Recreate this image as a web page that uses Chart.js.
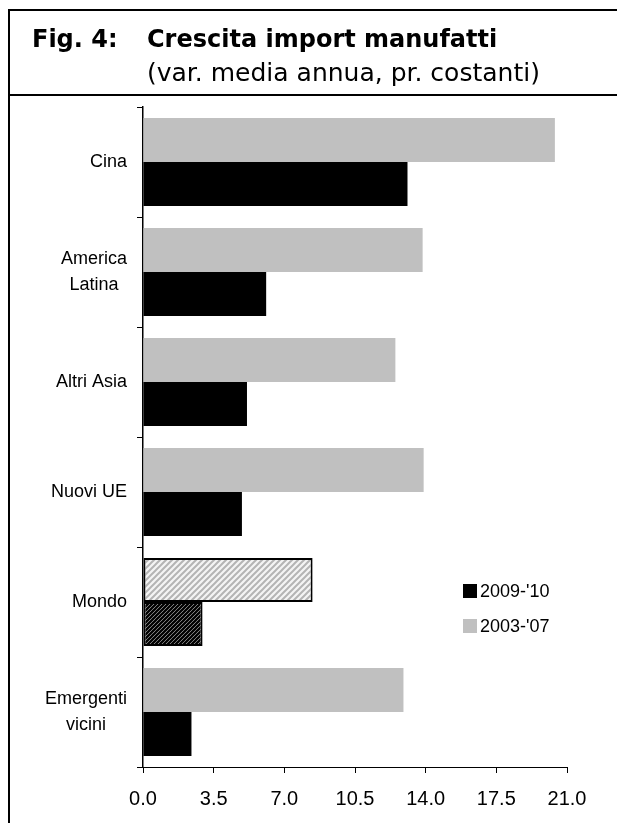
<!DOCTYPE html>
<html lang="it">
<head>
<meta charset="utf-8">
<title>Crescita import manufatti</title>
<script src="https://cdn.jsdelivr.net/npm/chart.js@4.4.1/dist/chart.umd.min.js"></script>
<style>
  html, body { margin: 0; padding: 0; background: #fff; overflow: hidden; }
  #page { position: relative; width: 617px; height: 823px; overflow: hidden; }
  #chartBox { position: absolute; left: 0; top: 0; width: 617px; height: 823px; }
  #frame {
    position: absolute; left: 8px; top: 9px; width: 700px; height: 900px;
    border-left: 2px solid #000; border-top: 2px solid #000;
  }
  #head {
    position: absolute; left: 8px; top: 9px; width: 700px; height: 85px;
    border-bottom: 2px solid #000;
    font-family: "DejaVu Sans", Verdana, sans-serif; color: #000; line-height: 1;
  }
  #head span { position: absolute; white-space: nowrap; }
  .fig { left: 24px; top: 18px; font-size: 24px; font-weight: bold; }
  .title { left: 139px; top: 18px; font-size: 24px; font-weight: bold; }
  .sub { left: 139px; top: 51px; font-size: 25px; }
</style>
</head>
<body>
<div id="page">
  <div id="chartBox"><canvas id="imports" width="617" height="823"></canvas></div>
  <div id="frame"></div>
  <div id="head">
    <span class="fig">Fig. 4:</span>
    <span class="title">Crescita import manufatti</span>
    <span class="sub">(var. media annua, pr. costanti)</span>
  </div>
</div>
<script>
const categories = [['Cina'], ['America', 'Latina'], ['Altri Asia'], ['Nuovi UE'], ['Mondo'], ['Emergenti', 'vicini']];
const seriesNames = ["2003-'07", "2009-'10"];
const growth0307 = [20.4, 13.85, 12.5, 13.9, 8.4, 12.9];
const growth0910 = [13.1, 6.1, 5.15, 4.9, 2.95, 2.4];
const xTicks = [0, 3.5, 7, 10.5, 14, 17.5, 21];
const worldIndex = 4;

const LABEL_FONT = '"Liberation Sans", Arial, sans-serif';
const GRAY = '#c0c0c0';
const BLACK = '#000000';

// diagonal "/" hatch used for the world totals
function hatch(bg, fg, size, width) {
  const c = document.createElement('canvas');
  c.width = c.height = size;
  const g = c.getContext('2d');
  g.fillStyle = bg;
  g.fillRect(0, 0, size, size);
  g.strokeStyle = fg;
  g.lineWidth = width;
  g.beginPath();
  g.moveTo(-size, size); g.lineTo(size, -size);
  g.moveTo(0, size); g.lineTo(size, 0);
  g.moveTo(0, size * 2); g.lineTo(size * 2, 0);
  g.stroke();
  return g.createPattern(c, 'repeat');
}

const ctx = document.getElementById('imports').getContext('2d');
const grayHatch = hatch('#f4f4f4', '#b4b4b4', 6, 2);
const blackHatch = hatch('#ffffff', '#000000', 4, 2.4);

const fills = (base, special) => categories.map((_, i) => i === worldIndex ? special : base);
const borders = categories.map((_, i) => i === worldIndex ? 2 : 0);

// category labels: block right-aligned to the axis, lines centred inside the block
const categoryLabels = {
  id: 'categoryLabels',
  afterDraw(chart) {
    const y = chart.scales.y;
    const g = chart.ctx;
    const lineH = 26;
    g.save();
    g.font = '18px ' + LABEL_FONT;
    g.fillStyle = '#000';
    g.textAlign = 'center';
    g.textBaseline = 'middle';
    const right = y.right - 16;
    categories.forEach((lines, i) => {
      const mid = y.getPixelForTick(i);
      const w = Math.max(...lines.map(l => g.measureText(l).width));
      const cx = right - w / 2;
      const top = mid - (lines.length - 1) * lineH / 2;
      lines.forEach((l, k) => g.fillText(l, cx, top + k * lineH));
    });
    g.restore();
  }
};

// legend placed inside the plot, newest period first
const insideLegend = {
  id: 'insideLegend',
  afterDraw(chart) {
    const g = chart.ctx;
    const area = chart.chartArea;
    const x0 = area.left + 320;
    const rows = [1, 0];
    g.save();
    g.font = '18px ' + LABEL_FONT;
    g.textBaseline = 'middle';
    g.textAlign = 'left';
    rows.forEach((d, k) => {
      const ds = chart.data.datasets[d];
      const yMid = area.top + 484 + k * 35;
      g.fillStyle = d === 1 ? BLACK : GRAY;
      g.fillRect(x0, yMid - 7, 14, 14);
      g.fillStyle = '#000';
      g.fillText(ds.label, x0 + 17, yMid + 1);
    });
    g.restore();
  }
};

new Chart(ctx, {
  type: 'bar',
  data: {
    labels: categories,
    datasets: [{
      label: seriesNames[0],
      data: growth0307,
      backgroundColor: fills(GRAY, grayHatch),
      borderColor: BLACK,
      borderWidth: borders,
      borderSkipped: false,
      categoryPercentage: 0.8,
      barPercentage: 1.0,
    }, {
      label: seriesNames[1],
      data: growth0910,
      backgroundColor: fills(BLACK, blackHatch),
      borderColor: BLACK,
      borderWidth: borders,
      borderSkipped: false,
      categoryPercentage: 0.8,
      barPercentage: 1.0,
    }]
  },
  options: {
    indexAxis: 'y',
    responsive: false,
    animation: false,
    devicePixelRatio: 1,
    layout: {
      padding: { left: 0, right: 50, top: 107, bottom: 0 },
    },
    scales: {
      x: {
        min: 0,
        max: 21,
        afterBuildTicks(scale) {
          scale.ticks = xTicks.map(v => ({ value: v }));
        },
        afterFit(scale) {
          scale.height = 56;
        },
        grid: {
          drawOnChartArea: false,
          drawTicks: true,
          tickLength: 6,
          color: '#000',
        },
        border: { display: true, color: '#000', width: 1 },
        ticks: {
          color: '#000',
          padding: 14,
          maxRotation: 0,
          font: { family: LABEL_FONT, size: 20 },
          callback: (v) => Number(v).toFixed(1),
        },
      },
      y: {
        afterFit(scale) {
          scale.width = 143;
        },
        grid: {
          drawOnChartArea: false,
          drawTicks: true,
          tickLength: 6,
          color: '#000',
          offset: true,
        },
        border: { display: true, color: '#000', width: 1.5 },
        ticks: { display: false },
      },
    },
    plugins: {
      legend: { display: false },
      title: { display: false },
      tooltip: { enabled: false },
    },
  },
  plugins: [categoryLabels, insideLegend],
});
</script>
</body>
</html>
